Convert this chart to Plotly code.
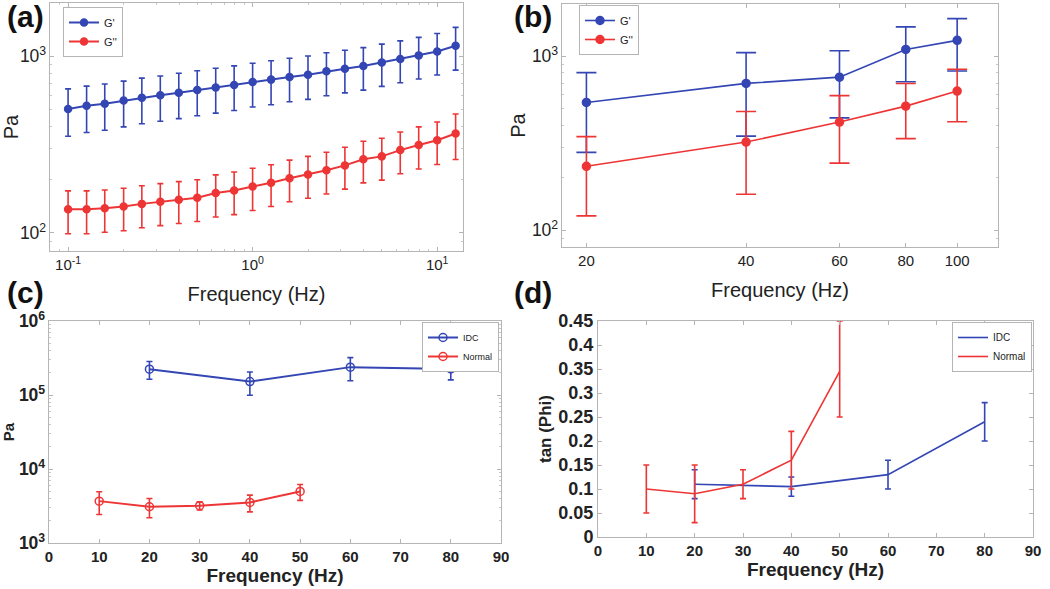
import plotly.graph_objects as go

# ---- data -------------------------------------------------------------
# (a) frequency sweep, G' and G''
freq_a = [0.1, 0.126, 0.158, 0.2, 0.251, 0.316, 0.398, 0.501, 0.631, 0.794, 1.0,
          1.259, 1.585, 1.995, 2.512, 3.162, 3.981, 5.012, 6.31, 7.943, 10.0, 12.59]
gp_a = [502, 523, 538, 560, 582, 600, 621, 643, 665, 686, 713,
        736, 762, 785, 820, 849, 879, 921, 962, 1009, 1062, 1143]
gp_a_err = [150, 153, 157, 162, 168, 172, 178, 183, 189, 194, 198,
            205, 210, 216, 224, 230, 237, 247, 256, 267, 280, 310]
gpp_a = [136, 136, 138, 141, 146, 150, 154, 158, 168, 174, 183,
         192, 204, 214, 226, 241, 261, 271, 294, 314, 334, 365]
gpp_a_err = [37, 37, 37, 38, 39, 40, 41, 42, 45, 47, 49,
             51, 54, 57, 60, 64, 69, 72, 78, 84, 90, 105]

# (b) higher frequencies
freq_b = [20, 40, 60, 80, 100]
gp_b = [542, 697, 757, 1092, 1231]
gp_b_err = [262, 350, 315, 380, 410]
gpp_b = [233, 321, 418, 516, 630]
gpp_b_err = [112, 160, 175, 180, 210]

# (c) IDC vs normal, Pa
freq_idc = [20, 40, 60, 80]
pa_idc = [223000, 152000, 238000, 225000]
pa_idc_err = [60000, 53000, 82000, 65000]
freq_normal = [10, 20, 30, 40, 50]
pa_normal = [3680, 3090, 3190, 3530, 4970]
pa_normal_err = [1250, 900, 400, 900, 1200]

# (d) tan(phi)
tan_idc = [0.11, 0.105, 0.13, 0.24]
tan_idc_err = [0.03, 0.02, 0.03, 0.04]
tan_normal = [0.10, 0.09, 0.11, 0.16, 0.345]
tan_normal_plus = [0.05, 0.06, 0.03, 0.06, 0.105]
tan_normal_minus = [0.05, 0.06, 0.03, 0.06, 0.095]

# tick labels
freq_a_ticks = [0.1, 1, 10]
freq_a_text = ["10<sup>-1</sup>", "10<sup>0</sup>", "10<sup>1</sup>"]
freq_b_ticks = [20, 40, 60, 80, 100]
tan_ticks = [0, 0.05, 0.1, 0.15, 0.2, 0.25, 0.3, 0.35, 0.4, 0.45]
tan_text = ["0", "0.05", "0.1", "0.15", "0.2", "0.25", "0.3", "0.35", "0.4", "0.45"]

BLUE = "#3346b4"
RED = "#ee3535"
FONT = "Liberation Sans, Arial, sans-serif"

fig = go.Figure()


def series(x, y, err, color, name, xa, ya, legend, symbol="circle", size=7,
           width=2, cap=3, err_minus=None, mode="lines+markers"):
    ey = dict(type="data", array=err, color=color, thickness=1.6, width=cap)
    if err_minus is not None:
        ey["arrayminus"] = err_minus
        ey["symmetric"] = False
    fig.add_trace(go.Scatter(
        x=x, y=y, name=name, mode=mode, xaxis=xa, yaxis=ya, legend=legend,
        line=dict(color=color, width=width),
        marker=dict(color=color, size=size, symbol=symbol,
                    line=dict(color=color, width=1.5)),
        error_y=ey,
    ))


series(freq_a, gp_a, gp_a_err, BLUE, "G'", "x", "y", "legend")
series(freq_a, gpp_a, gpp_a_err, RED, "G''", "x", "y", "legend")
series(freq_b, gp_b, gp_b_err, BLUE, "G'", "x2", "y2", "legend2", size=8, width=1.6, cap=10)
series(freq_b, gpp_b, gpp_b_err, RED, "G''", "x2", "y2", "legend2", size=8, width=1.6, cap=10)
series(freq_idc, pa_idc, pa_idc_err, BLUE, "IDC", "x3", "y3", "legend3",
       symbol="circle-open", size=8)
series(freq_normal, pa_normal, pa_normal_err, RED, "Normal", "x3", "y3", "legend3",
       symbol="circle-open", size=8)
series(freq_idc, tan_idc, tan_idc_err, BLUE, "IDC", "x4", "y4", "legend4",
       width=1.6, mode="lines")
series(freq_normal, tan_normal, tan_normal_plus, RED, "Normal", "x4", "y4", "legend4",
       width=1.6, mode="lines", err_minus=tan_normal_minus)

frame = dict(showline=True, linecolor="#b5b5b5", linewidth=1, mirror="ticks",
             ticks="inside", ticklen=4, tickcolor="#b5b5b5", showgrid=False,
             zeroline=False, automargin=False,
             tickfont=dict(family=FONT, size=15, color="#222"))
minor = dict(ticks="inside", ticklen=2, tickcolor="#c8c8c8", dtick="D1", showgrid=False)
logax = dict(type="log", dtick=1, exponentformat="power", minor=minor)
title_a = dict(family=FONT, size=20, color="#222")
title_c = dict(family=FONT, size=19, color="#222", weight="bold")
bold_ticks = dict(family=FONT, size=15, color="#222", weight="bold")
small_ticks = dict(family=FONT, size=14, color="#222")


def W(px):
    return px / 1050


def H(px):
    return 1 - px / 589


fig.update_layout(
    width=1050, height=589, margin=dict(l=0, r=0, t=0, b=0, autoexpand=False),
    template="none",
    paper_bgcolor="white", plot_bgcolor="white",
    font=dict(family=FONT, color="#222"),
    xaxis=dict(frame, type="log", minor=minor, domain=[W(50), W(463)],
               range=[-1.098, 1.14], tickvals=freq_a_ticks, ticktext=freq_a_text,
               anchor="y",
               title=dict(text="Frequency (Hz)", font=title_a, standoff=14)),
    yaxis=dict(frame, **logax, domain=[H(251), H(3)], range=[1.898, 3.30], anchor="x",
               tickfont=small_ticks,
               title=dict(text="Pa", font=title_a, standoff=12)),
    xaxis2=dict(frame, type="log", domain=[W(562), W(998)], range=[1.255, 2.077],
                tickvals=freq_b_ticks, anchor="y2",
                title=dict(text="Frequency (Hz)", font=title_a, standoff=14)),
    yaxis2=dict(frame, **logax, domain=[H(247), H(4)], range=[1.904, 3.299], anchor="x2",
                tickfont=small_ticks,
                title=dict(text="Pa", font=title_a, standoff=0)),
    xaxis3=dict(frame, domain=[W(49), W(501)], range=[0, 90], dtick=10, anchor="y3",
                tickfont=bold_ticks,
                title=dict(text="Frequency (Hz)", font=title_c, standoff=3)),
    yaxis3=dict(frame, **logax, domain=[H(543), H(321)], range=[3, 6], anchor="x3",
                tickfont=dict(bold_ticks, size=14),
                title=dict(text="Pa", font=dict(title_c, size=15), standoff=4)),
    xaxis4=dict(frame, domain=[W(598), W(1033)], range=[0, 90], dtick=10, anchor="y4",
                tickfont=bold_ticks,
                title=dict(text="Frequency (Hz)", font=title_c, standoff=2)),
    yaxis4=dict(frame, domain=[H(537), H(321)], range=[0, 0.45],
                tickvals=tan_ticks, ticktext=tan_text, anchor="x4",
                tickfont=dict(bold_ticks, size=18),
                title=dict(text="tan (Phi)", font=dict(title_c, size=17), standoff=2)),
    showlegend=True,
)

leg = dict(bgcolor="white", bordercolor="#b5b5b5", borderwidth=1,
           font=dict(family=FONT, size=11, color="#222"),
           xanchor="left", yanchor="top", tracegroupgap=0, itemwidth=30)
fig.update_layout(
    legend=dict(leg, x=W(63), y=H(7)),
    legend2=dict(leg, x=W(579), y=H(5)),
    legend3=dict(leg, x=W(499), y=H(322), xanchor="right", font=dict(leg["font"], size=9)),
    legend4=dict(leg, x=W(1032), y=H(322), xanchor="right", font=dict(leg["font"], size=10)),
)

for label, x, y in [("(a)", 25, 16), ("(b)", 533, 16), ("(c)", 25, 292), ("(d)", 533, 292)]:
    fig.add_annotation(text=label, xref="paper", yref="paper", x=W(x), y=H(y),
                       showarrow=False, xanchor="center", yanchor="middle",
                       font=dict(family=FONT, size=30, color="#111", weight="bold"))

# the page body has a default 8px margin; drop it so the figure sits at 0,0
fig.write_html("out.html", config={"displayModeBar": False},
               post_script="document.body.style.margin='0px';")
